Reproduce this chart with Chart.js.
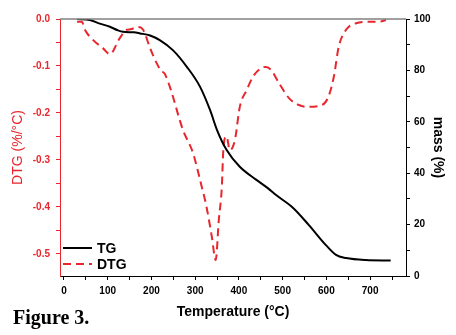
<!DOCTYPE html>
<html>
<head>
<meta charset="utf-8">
<script src="https://cdn.jsdelivr.net/npm/chart.js@4"></script>
<style>
  body { margin: 0; background: #fff; }
  #wrap { position: relative; width: 456px; height: 335px; }
  #fig { position: absolute; left: 13px; top: 306px; font: bold 20px "Liberation Serif", "Times New Roman", serif; color: #000; }
</style>
</head>
<body>
<div id="wrap">
  <canvas id="chart" width="456" height="335"></canvas>
  <div id="fig">Figure 3.</div>
</div>
<script>
const tgTemp = [30, 59, 82, 105, 123, 135, 160, 174, 197, 219, 249, 281, 311, 334, 350, 372, 402, 440, 466, 485, 524, 560, 599, 622, 645, 690, 747];
const tgMass = [100, 99.6, 98.2, 97, 95.6, 95, 94.8, 94.4, 93.6, 91.8, 87.9, 81.4, 73.7, 64.6, 56.8, 49, 42.5, 37.4, 34.2, 31.5, 26.5, 19.8, 12, 8.2, 7, 6.2, 6];

const dtgTemp = [30, 41, 48, 67, 89, 105, 128, 144, 152, 169, 181, 197, 212, 222, 230, 242, 272, 295, 315, 326, 338, 347, 354, 361, 364, 368, 372, 379, 391, 402, 418, 432, 452, 462, 473, 492, 515, 537, 557, 583, 603, 617, 628, 645, 668, 697, 720, 736];
const dtgValues = [-0.006, -0.006, -0.023, -0.045, -0.062, -0.075, -0.04, -0.023, -0.022, -0.017, -0.023, -0.062, -0.094, -0.11, -0.116, -0.144, -0.236, -0.285, -0.357, -0.4, -0.463, -0.513, -0.428, -0.357, -0.285, -0.253, -0.25, -0.279, -0.257, -0.187, -0.151, -0.123, -0.104, -0.102, -0.108, -0.137, -0.169, -0.183, -0.187, -0.185, -0.169, -0.123, -0.06, -0.023, -0.009, -0.006, -0.006, -0.002];

const red = '#e8262d';
const sans = '"Liberation Sans", Arial, sans-serif';

const topBorder = {
  id: 'topBorder',
  afterDraw(chart) {
    const {ctx, chartArea} = chart;
    ctx.save();
    ctx.strokeStyle = '#808080';
    ctx.lineWidth = 1.5;
    ctx.beginPath();
    ctx.moveTo(chartArea.left, chartArea.top);
    ctx.lineTo(chartArea.right, chartArea.top);
    ctx.stroke();

    // legend, bottom left inside the plot
    const items = [
      {text: 'TG', color: '#000', dash: []},
      {text: 'DTG', color: red, dash: [8, 5]}
    ];
    ctx.font = 'bold 14px ' + sans;
    ctx.textBaseline = 'middle';
    items.forEach((it, i) => {
      const y = chartArea.bottom - 28 + i * 16;
      const x = chartArea.left + 3;
      ctx.strokeStyle = it.color;
      ctx.lineWidth = 2;
      ctx.setLineDash(it.dash);
      ctx.beginPath();
      ctx.moveTo(x, y);
      ctx.lineTo(x + 29, y);
      ctx.stroke();
      ctx.setLineDash([]);
      ctx.fillStyle = '#000';
      ctx.fillText(it.text, x + 34, y + 1);
    });
    ctx.restore();
  }
};

const config = {
  type: 'line',
  data: {
    datasets: [
      {
        label: 'TG',
        data: tgTemp.map((t, i) => ({x: t, y: tgMass[i]})),
        yAxisID: 'y2',
        borderColor: '#000',
        borderWidth: 2,
        pointRadius: 0,
        cubicInterpolationMode: 'monotone',
        fill: false
      },
      {
        label: 'DTG',
        data: dtgTemp.map((t, i) => ({x: t, y: dtgValues[i]})),
        yAxisID: 'y',
        borderColor: red,
        borderWidth: 2,
        borderDash: [8, 5],
        pointRadius: 0,
        cubicInterpolationMode: 'monotone',
        fill: false
      }
    ]
  },
  options: {
    responsive: false,
    animation: false,
    layout: { padding: { top: 19, left: 0, right: 0, bottom: 0 } },
    plugins: {
      legend: { display: false },
      tooltip: { enabled: false }
    },
    scales: {
      x: {
        type: 'linear',
        min: -9,
        max: 782,
        afterFit: s => { s.height = 59; },
        border: { color: '#000', width: 1 },
        grid: { drawOnChartArea: false, tickLength: 4, tickColor: '#000' },
        ticks: {
          stepSize: 50,
          includeBounds: false,
          autoSkip: false,
          maxRotation: 0,
          padding: 5,
          color: '#000',
          font: { family: sans, size: 10, weight: 'bold' },
          callback: v => (v % 100 === 0 ? String(v) : '')
        },
        title: {
          display: true,
          text: 'Temperature (°C)',
          color: '#000',
          font: { family: sans, size: 14, weight: 'bold' },
          padding: { bottom: 14 }
        }
      },
      y: {
        position: 'left',
        min: -0.547,
        max: 0,
        afterFit: s => { s.width = 60; },
        border: { color: red, width: 1 },
        grid: { drawOnChartArea: false, tickLength: 4, tickColor: red },
        ticks: {
          stepSize: 0.05,
          includeBounds: false,
          padding: 6,
          color: red,
          font: { family: sans, size: 10, weight: 'bold' },
          callback: v => (Math.abs(v * 10 - Math.round(v * 10)) < 1e-6 ? (Math.abs(v) < 1e-9 ? '0.0' : v.toFixed(1)) : '')
        },
        title: {
          display: true,
          text: 'DTG (%/°C)',
          color: red,
          font: { family: sans, size: 14 },
          padding: { top: 10 }
        }
      },
      y2: {
        position: 'right',
        min: 0,
        max: 100,
        afterFit: s => { s.width = 50; },
        border: { color: '#000', width: 1 },
        grid: { drawOnChartArea: false, tickLength: 4, tickColor: '#000' },
        ticks: {
          stepSize: 10,
          padding: 4,
          color: '#000',
          font: { family: sans, size: 10, weight: 'bold' },
          callback: v => (v % 20 === 0 ? String(v) : '')
        },
        title: {
          display: true,
          text: 'mass (%)',
          color: '#000',
          font: { family: sans, size: 14, weight: 'bold' },
          padding: { top: 10 }
        }
      }
    }
  },
  plugins: [topBorder]
};

var chart = new Chart(document.getElementById('chart'), config);
</script>
</body>
</html>
